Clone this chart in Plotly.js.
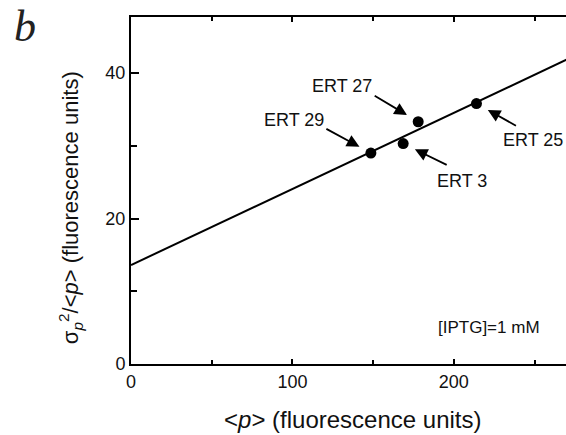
<!DOCTYPE html>
<html>
<head>
<meta charset="utf-8">
<script src="https://cdn.plot.ly/plotly-3.0.1.min.js"></script>
<style>
html,body{margin:0;padding:0;overflow:hidden;background:#fff;}
#chart{width:600px;height:435px;}
</style>
</head>
<body>
<div id="chart"></div>
<script>
// Data
const strainNames = ["ERT 29", "ERT 3", "ERT 27", "ERT 25"];
const meanP = [148.6, 168.6, 177.9, 214.0];
const noiseRatio = [29.0, 30.3, 33.3, 35.8];
const fitX = [0, 280];
const fitY = [13.6, 42.9];
const xTickVals = [0, 100, 200];
const yTickVals = [0, 20, 40];

// label placement offsets (pixels) relative to the points
const labelShift = [[-77, 33], [59, -37], [-76, 36], [57, -36]];
const arrowTail = [[-46, -25], [45, 22], [-45, -27], [41, 23]];

const font = "Liberation Sans, Arial, sans-serif";

const traces = [
  {x: fitX, y: fitY, mode: "lines", line: {color: "#000", width: 2}, hoverinfo: "skip", showlegend: false},
  {x: meanP, y: noiseRatio, mode: "markers", marker: {color: "#000", size: 11, symbol: "circle"}, showlegend: false}
];

const annotations = [];
strainNames.forEach((name, i) => {
  annotations.push({x: meanP[i], y: noiseRatio[i], xref: "x", yref: "y", text: name,
    showarrow: false, xshift: labelShift[i][0], yshift: labelShift[i][1],
    font: {family: font, size: 18, color: "#111"}});
  annotations.push({x: meanP[i], y: noiseRatio[i], xref: "x", yref: "y", text: "",
    showarrow: true, ax: arrowTail[i][0], ay: arrowTail[i][1], standoff: 13,
    arrowhead: 2, arrowsize: 1.4, arrowwidth: 1.8, arrowcolor: "#000"});
});
annotations.push({x: 222, y: 4.95, xref: "x", yref: "y", text: "[IPTG]=1 mM", showarrow: false,
  font: {family: font, size: 17, color: "#111"}});
annotations.push({x: 0.489, y: -0.161, xref: "paper", yref: "paper", text: "&lt;<i>p</i>&gt; (fluorescence units)",
  showarrow: false, xanchor: "center", yanchor: "middle", font: {family: font, size: 24, color: "#111"}});
annotations.push({x: -0.135, y: 0.452, xref: "paper", yref: "paper", textangle: -90,
  text: "σ<sub><i>p</i></sub><sup>2</sup>/&lt;<i>p</i>&gt; (fluorescence units)",
  showarrow: false, xanchor: "center", yanchor: "middle", font: {family: font, size: 22, color: "#111"}});
annotations.push({x: -0.235, y: 0.972, xref: "paper", yref: "paper", text: "<i>b</i>", showarrow: false,
  xanchor: "center", yanchor: "middle", font: {family: "Liberation Serif, serif", size: 44, color: "#222"}});

const layout = {
  width: 600, height: 435,
  margin: {l: 131, r: 17, t: 17, b: 71},
  paper_bgcolor: "#fff", plot_bgcolor: "#fff",
  showlegend: false,
  xaxis: {range: [0, 280], tickvals: xTickVals, ticks: "inside", ticklen: 5, tickwidth: 2,
    showline: true, linewidth: 2, linecolor: "#000", mirror: "ticks", showgrid: false, zeroline: false,
    minor: {dtick: 50, tick0: 0, ticks: "inside", ticklen: 4, tickwidth: 2, tickcolor: "#000", showgrid: false},
    tickfont: {family: font, size: 18, color: "#111"}, tickcolor: "#000"},
  yaxis: {range: [0, 47.7], tickvals: yTickVals, ticks: "inside", ticklen: 8, tickwidth: 2,
    showline: true, linewidth: 2, linecolor: "#000", mirror: "ticks", showgrid: false, zeroline: false,
    minor: {dtick: 10, tick0: 0, ticks: "inside", ticklen: 6, tickwidth: 2, tickcolor: "#000", showgrid: false},
    tickfont: {family: font, size: 18, color: "#111"}, tickcolor: "#000"},
  annotations: annotations
};

Plotly.newPlot("chart", traces, layout, {staticPlot: true, displayModeBar: false});
</script>
</body>
</html>
